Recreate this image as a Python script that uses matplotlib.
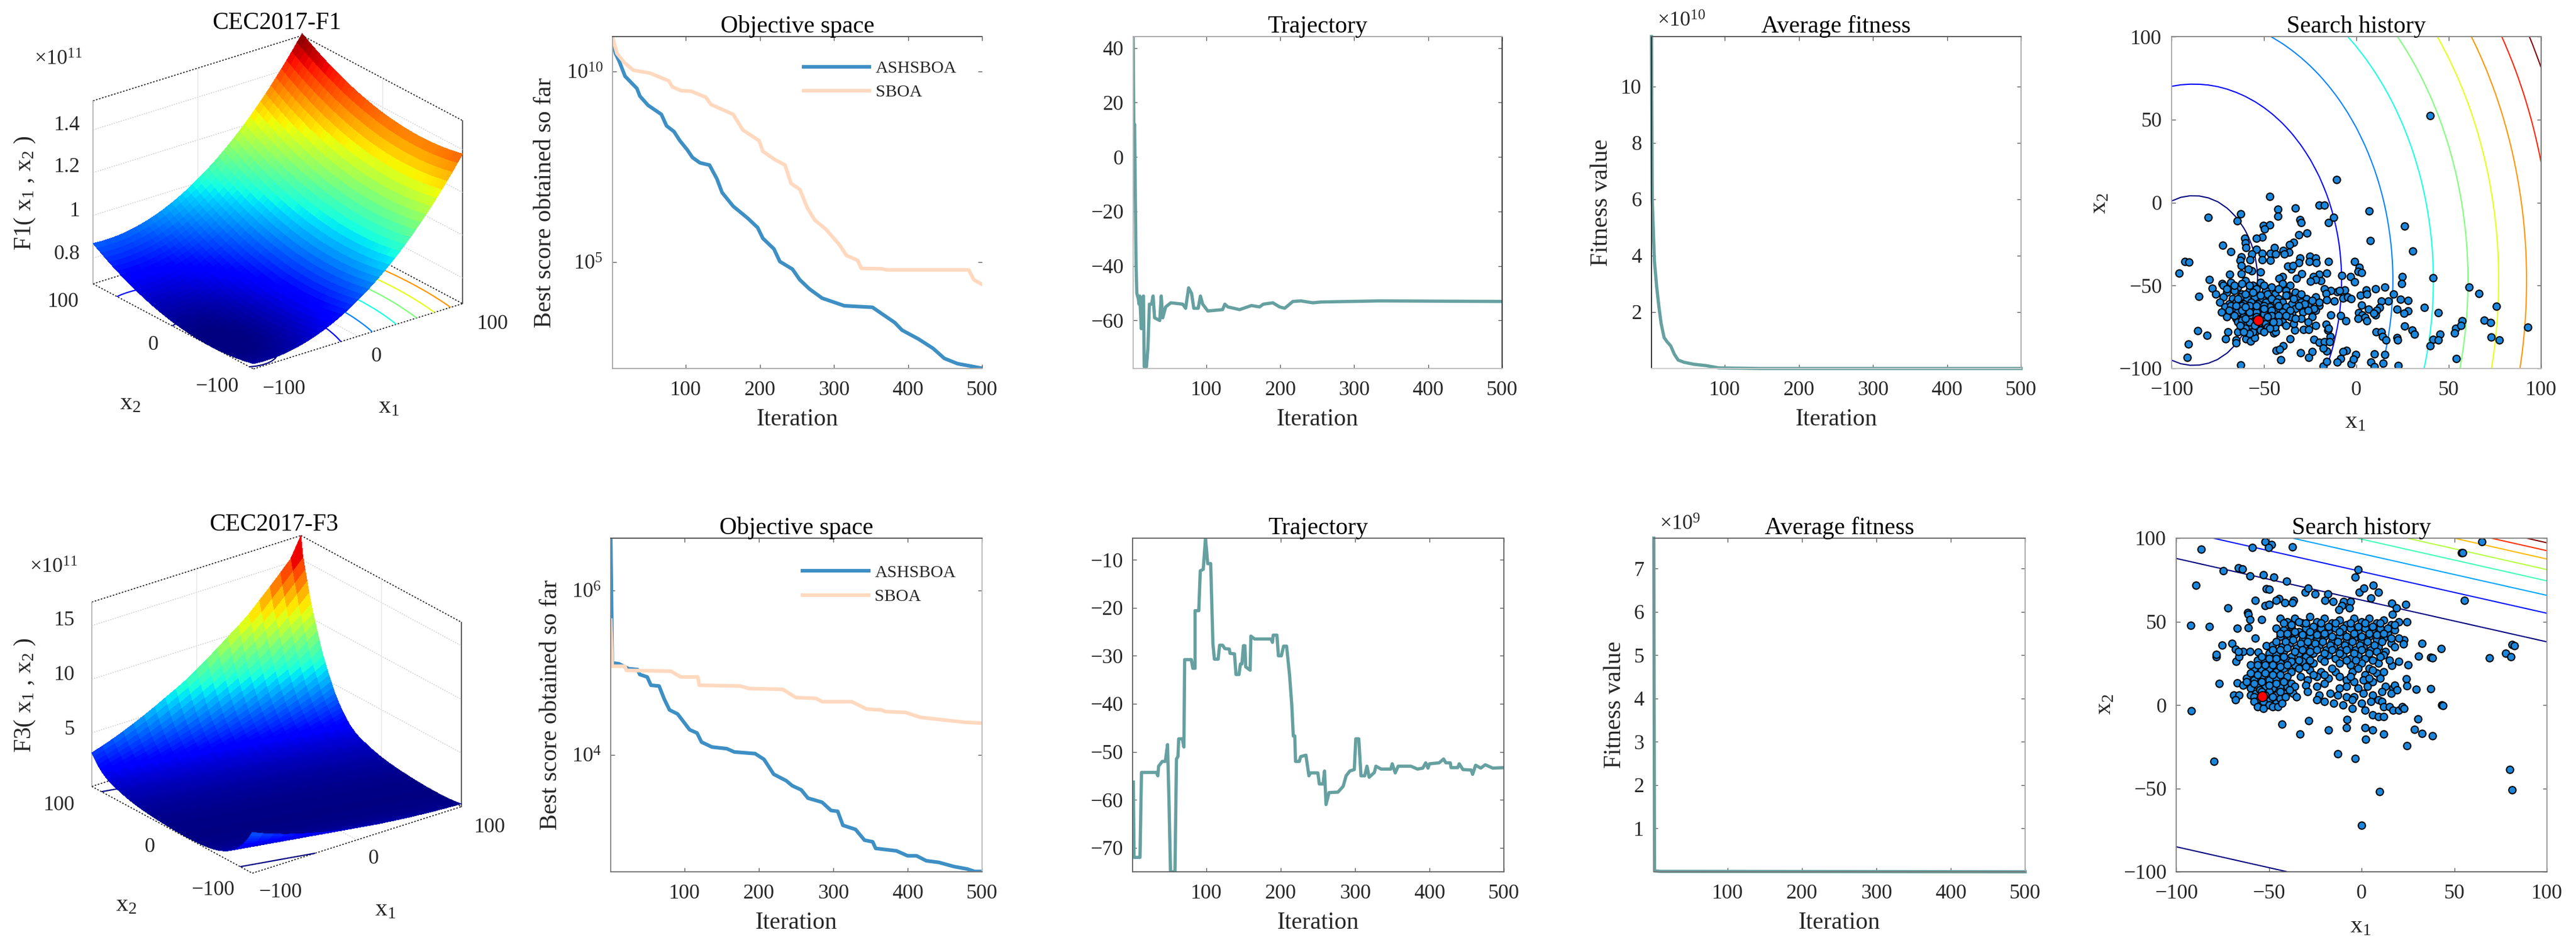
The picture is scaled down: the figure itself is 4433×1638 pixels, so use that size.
import numpy as np
import matplotlib
matplotlib.use('Agg')
from matplotlib import pyplot as plt

plt.rcParams['font.family'] = ['Liberation Serif', 'DejaVu Serif']
plt.rcParams['mathtext.fontset'] = 'custom'
plt.rcParams['mathtext.rm'] = 'Liberation Serif'
plt.rcParams['mathtext.it'] = 'Liberation Serif:italic'
plt.rcParams['mathtext.default'] = 'regular'

W, H = 4433, 1638
TICK = 26
LABEL = 30
DARK = '#262626'
BLUE = '#3E8FC4'
PEACH = '#FFD9BF'
TEAL = '#66A0A0'
DOT = '#1A86DC'

# surface F1, profiles read along each side of the box (x1e11, step 5)
f1_base = 0.677
f1_along_x1 = [.0028,.0009,.0001,.0002,.0012,.0032,.0062,.0102,.0151,.0209,.0277,.0355,.0442,.0539,
               .0646,.0762,.0888,.1023,.1168,.1323,.1487,.1661,.1844,.2037,.2239,.2452,.2673,.2905,
               .3146,.3396,.3656,.3926,.4206,.4495,.4793,.5101,.5419,.5746,.6083,.6430,.6786]
f1_along_x2 = [.0246,.0202,.0162,.0127,.0096,.0069,.0046,.0028,.0015,.0006,.0001,.0,.0004,.0013,
               .0025,.0042,.0064,.0090,.0120,.0155,.0194,.0237,.0285,.0337,.0394,.0455,.0520,.0590,
               .0664,.0742,.0825,.0912,.1004,.1100,.1201,.1305,.1414,.1528,.1646,.1768,.1895]
f1_levels = [.7,.8,.9,1.0,1.1,1.2,1.3,1.4,1.5]
f1_zlim = (.68,1.536)

# surface F3 is ridged along one direction, values read going across the ridge (x1e11)
f3_across = [3.80,3.40,3.05,2.72,2.42,2.15,1.90,1.68,1.48,1.30,
             1.14,1.00,.87,.76,.66,.57,.49,.42,.36,.31,
             .26,.22,.19,.16,.14,.12,.10,.09,.08,.07,
             .07,.06,.06,.06,.06,.06,.07,.07,.08,.09,
             .10,.11,.12,.13,.15,.16,.18,.20,.22,.24,
             .26,.28,.30,.33,.36,.39,.42,.45,.49,.53,
             .58,.63,.68,.74,.80,.86,.93,1.00,1.08,1.16,
             1.24,1.33,1.43,1.55,1.71,1.87,2.08,2.31,2.56,2.83,
             3.13,3.45,3.80,4.19,4.61,5.07,5.55,6.07,6.58,7.12,
             7.75,8.45,9.15,9.90,10.6,11.4,12.35,13.3,14.3,15.3,
             17.2]
f3_levels = [1.9,3.8,5.7,7.6,9.5,11.4,13.3,15.2]
f3_zlim = (0,17.2)

# convergence, (iteration, log10 of best score)
ash_f1 = [(1,10.84),(5,10.48),(10,10.28),(18,9.88),(34,9.56),(38,9.36),(49,9.12),(67,8.88),(74,8.58),(84,8.43),
          (92,8.19),(102,7.95),(109,7.75),(119,7.61),(132,7.55),(142,7.19),(149,6.83),(164,6.47),(184,6.15),
          (197,5.91),(204,5.63),(219,5.35),(227,5.02),(244,4.82),(254,4.54),(267,4.30),(284,4.06),(299,3.96),
          (314,3.86),(352,3.82),(367,3.62),(382,3.42),(392,3.22),(414,2.99),(434,2.74),(449,2.48),(467,2.34),
          (484,2.28),(500,2.22)]
sboa_f1 = [(1,10.92),(7,10.48),(17,10.24),(29,10.04),(52,9.96),(77,9.76),(82,9.60),(94,9.50),(107,9.49),(127,9.33),
           (134,9.14),(164,8.88),(177,8.47),(199,8.19),(204,7.91),(219,7.71),(234,7.55),(242,7.07),(254,6.91),
           (264,6.43),(274,6.11),(289,5.87),(307,5.47),(317,5.18),(332,5.05),(337,4.84),(364,4.83),(372,4.80),
           (482,4.80),(489,4.54),(500,4.42)]
ash_f3 = [(1,6.63),(3,5.12),(12,5.11),(25,5.05),(37,5.04),(40,4.98),(50,4.95),(55,4.85),(66,4.84),(73,4.68),(80,4.55),
          (91,4.50),(107,4.31),(117,4.27),(123,4.16),(137,4.10),(157,4.08),(167,4.04),(195,4.02),(207,3.95),(220,3.77),
          (237,3.69),(245,3.63),(257,3.58),(266,3.48),(285,3.43),(297,3.33),(306,3.32),(313,3.15),(330,3.10),(342,2.97),
          (353,2.95),(357,2.87),(385,2.84),(400,2.78),(412,2.78),(425,2.72),(442,2.70),(462,2.65),(480,2.62),(490,2.59),(500,2.59)]
sboa_f3 = [(1,5.64),(3,5.08),(20,5.08),(22,5.03),(82,5.02),(95,4.95),(118,4.95),(120,4.85),(175,4.84),(187,4.81),(232,4.80),
           (250,4.70),(277,4.69),(285,4.65),(325,4.65),(345,4.56),(365,4.55),(370,4.53),(397,4.52),(417,4.46),(447,4.43),
           (477,4.40),(500,4.39)]

# trajectory of first dimension
traj_f1 = [(1,44),(2,8),(3,12),(4,-15),(5,-40),(6,-50),(8,-52),(9,-54),(10,-51),(12,-63),(13,-52),(15,-51),(16,-77),(19,-77),
           (21,-70),(23,-54),(26,-54),(28,-51),(30,-59),(37,-60),(39,-51),(41,-59),(45,-55),(52,-53.5),(68,-54),(72,-55.5),
           (76,-48),(80,-50),(83,-55.5),(89,-55.5),(92,-51),(95,-54),(102,-56.5),(122,-56),(125,-54),(129,-55),(145,-56),
           (161,-54.5),(172,-55),(177,-54),(190,-53.5),(199,-55),(206,-55.5),(217,-53),(228,-52.8),(244,-53.5),(255,-53.2),
           (334,-52.8),(500,-53)]
traj_f3 = [(2,-56.3),(3,-72),(11,-72),(13,-54.3),(33,-54.3),(35,-55),(36,-53),(41,-52),(45,-52),(48,-48.5),(50,-60.5),(52,-75),
           (58,-75),(60,-51.5),(62,-51),(63,-47.3),(68,-47.3),(70,-49),(71,-30.8),(80,-30.8),(82,-32.6),(85,-32.6),(85,-20.6),
           (90,-20.6),(92,-12.3),(96,-12),(99,-5.5),(102,-10.8),(106,-10.8),(109,-27.5),(111,-30.7),(116,-30.7),(118,-27.8),
           (122,-27.8),(125,-28.5),(131,-28.6),(132,-29.5),(138,-29.6),(140,-33.9),(144,-33.9),(146,-31.7),(148,-31.7),
           (150,-27.9),(152,-27.9),(153,-32.3),(159,-33),(160,-25.9),(165,-26.5),(187,-26.5),(189,-27.2),(190,-25.7),(195,-25.7),
           (197,-30),(201,-30),(204,-28),(208,-28),(212,-34),(215,-40.3),(217,-46.7),(219,-46.7),(220,-52),(225,-52),(227,-51),
           (234,-50.7),(238,-55),(240,-54.4),(250,-54.4),(252,-56.7),(257,-56.7),(259,-54),(261,-61),(265,-58.5),(277,-58.4),
           (284,-57.2),(288,-55),(293,-54),(299,-53.7),(301,-47.3),(305,-47.3),(308,-55),(313,-55),(316,-53),(319,-55.3),
           (326,-54.3),(328,-53),(335,-53.6),(348,-53.6),(350,-52.5),(354,-54.4),(358,-53),(375,-53),(384,-53.6),(391,-53.4),
           (395,-52.3),(398,-53.4),(400,-52.5),(413,-52.3),(419,-51.5),(422,-52.3),(428,-52.3),(429,-53.3),(438,-53.3),(440,-52.5),
           (445,-53.7),(456,-53.8),(458,-54.7),(462,-52.8),(469,-53.4),(475,-52.7),(485,-53.4),(500,-53.3)]

# average fitness
fit_f1 = [(1,11.77),(2,6),(5,3.8),(8,2.9),(11,2.2),(14,1.6),(18,1.1),(22,.95),(27,.8),(32,.5),(37,.3),(45,.22),(58,.15),(75,.1),(92,.02),(148,0),(500,0)]
fit_f3 = [(1,7.7),(2,0.02),(10,0.01),(500,0)]

# search history points
hist_f1 = [(40,52.4),(-10.7,13.9),(-46.8,3.6),(-42.5,-4),(-42.5,-8.4),(-33,-3.2),(-62.7,-7),(-64.6,-11),(-80.3,-8.8),(-20.2,-1.7),
           (-17.4,-1.7),(-12.2,-9.1),(-15.2,-12),(-30.5,-10.2),(-30,-12),(-50.2,-14),(-46.8,-13.4),(-49.6,-16),(7,-5),(26.2,-14.3),
           (7.5,-22.8),(30.5,-29.4),(-26.8,-18.3),(-31.1,-19.3),(-51,-20.7),(-54,-21.7),(-60.5,-21.7),(-60,-24.4),(-59.6,-27.2),
           (-72.3,-25.7),(-68,-29.6),(-33.9,-23.9),(-36.1,-25.3),(-36.5,-30),(-39.5,-29),(-44.4,-27.2),(-54,-28.1),(-56.7,-30.9),
           (-51.1,-30.5),(-46.4,-30.5),(-43.6,-30.9),(-39,-30.9),(-62.4,-32.7),(-63,-35),(-62.4,-37.9),(-57.7,-34.6),(-51,-34.6),
           (-46.4,-35),(-92.9,-35.5),(-90.6,-35.9),(-96,-42.5),(-25.3,-32.4),(-22,-33.6),(-30.5,-33.6),(-31,-36.4),(-25.5,-35.5),
           (-21.8,-36.4),(-15,-35.5),(-0.9,-35.5),(1.7,-39.2),(1,-41.6),(2.8,-42.3),(25,-44.7),(41.6,-45.3),(24.5,-48.9),(-3.2,-44.7),
           (-8,-44.1),(-0.9,-47.8),(-15.9,-42.5),(-20.2,-43.2),(-23.4,-44.7),(-19.3,-47),(-22,-46.5),(-24.9,-47.5),(-29.6,-42.9),
           (-32.4,-45.6),(-35.2,-40),(-37,-38.2),(-34.3,-37.9),(-39.9,-44.7),(-41.8,-45.6),(-52,-42),(-56.7,-41),(-58.6,-40),
           (-62.4,-42.9),(-68.4,-43.4),(-79.6,-46.5),(-72.7,-48.9),(-78,-51.5),(-76.2,-55.2),(-85.2,-56.7),(60.9,-51),(66.5,-54.8),
           (15.4,-50.8),(10.3,-52),(5.4,-52.6),(2.2,-55.8),(5.6,-55.2),(-6.2,-52.6),(-10.3,-53.9),(-9,-53),(-13.7,-53),(-17.4,-52),
           (-7.1,-57.6),(-4.7,-57),(-2.8,-58),(20,-55.2),(23.8,-58.2),(27.9,-58.9),(17.2,-59.4),(13.5,-59.4),(2.8,-61.8),(36.9,-63.3),
           (75.7,-62.4),(44.4,-66.3),(21.9,-64.4),(27.9,-65.2),(25.7,-66.8),(12.5,-63.1),(11,-65),(10.3,-67.7),(6.6,-64.4),(1.3,-66.3),
           (3.2,-67.7),(1,-70),(4.7,-69.2),(5.6,-71.4),(9.4,-66.8),(-8.4,-68.1),(-5.6,-71.4),(-13.7,-67.7),(-16.5,-54.8),(-11.8,-59.4),
           (-15.9,-58.5),(-20.2,-62.2),(-22.1,-65),(26.2,-74.4),(30.3,-77),(31.6,-79.4),(10.7,-77.9),(13.5,-77.9),(14,-80.6),(15.9,-82.9),
           (21.9,-81.6),(22.3,-82.9),(45.3,-79.4),(41.6,-82.5),(44.4,-82.9),(40,-86.2),(53.7,-76),(57.1,-71.4),(56.6,-74.2),(69.3,-71),
           (72.5,-72.3),(53.2,-78.8),(92.7,-75.1),(72.8,-81.2),(77.3,-83),(54.1,-93.9),(22.5,-98.2),(15.4,-91.7),(9.7,-91.3),(14.4,-96.9),
           (7.9,-96),(9.7,-99.1),(-0.2,-91.7),(-2.8,-97.2),(-1.5,-94.5),(-5.2,-89),(-7.1,-89.9),(-8.4,-93.9),(-10.3,-96),(-17.8,-98.5),
           (-15.9,-95.8),(-15.9,-89.5),(-24,-89.9),(-25.8,-93.5),(-30.1,-90.4),(-40.8,-94.8),(-39.5,-86.2),(-43.3,-89),(-41.4,-88.6),
           (-62.7,-97.8),(-91.4,-93.2),(-91,-85.3),(-85.8,-77.1),(-80.7,-80.1),(-70.8,-82.1),(-69.5,-77.9),(-65.2,-82.9),(-65.2,-84.7),
           (-64.2,-77.9),(-59.6,-82.1),(-57.1,-83.4),(-59.6,-78.4),(-54.9,-78.8),(-54.9,-81.6),(-44.6,-78.8),(-43.6,-77.9),(-35.8,-82.1),
           (-33.3,-77),(-28.7,-76.6),(-25.8,-76.6),(-23,-82.5),(-20.2,-84.3),(-17.4,-84),(-14,-80.6),(-17.8,-87.6),(-14.6,-84),(-15.5,-77),
           (-16.5,-73.3),(-15.2,-76),
           # dense part of the cloud
           (-72,-50),(-68,-48),(-64,-51),(-60,-47),(-56,-50),(-52,-48),(-46,-51),(-40,-49),(-36,-50),(-70,-54),(-66,-53),(-62,-55),
           (-58,-53),(-54,-55),(-49,-53),(-44,-55),(-38,-53),(-33,-54),(-72,-57),(-67,-58),(-63,-57),(-59,-58),(-55,-57),(-51,-58),
           (-47,-57),(-42,-58),(-37,-56),(-31,-57),(-27,-58),(-22,-57),(-74,-60),(-69,-61),(-65,-60),(-61,-61),(-57,-60),(-53,-61),
           (-49,-60),(-45,-61),(-40,-60),(-35,-61),(-30,-60),(-26,-61),(-20,-60),(-71,-63),(-67,-64),(-63,-63),(-59,-64),(-55,-63),
           (-51,-64),(-47,-63),(-43,-64),(-38,-63),(-33,-64),(-28,-63),(-23,-64),(-73,-66),(-68,-67),(-64,-66),(-60,-67),(-56,-66),
           (-52,-67),(-48,-66),(-44,-67),(-40,-66),(-35,-67),(-29,-66),(-70,-69),(-65,-70),(-61,-69),(-57,-70),(-53,-68),(-49,-70),
           (-45,-69),(-41,-70),(-36,-69),(-30,-70),(-24,-69),(-64,-72),(-60,-73),(-56,-72),(-52,-74),(-48,-72),(-44,-73),(-40,-72),
           (-34,-73),(-26,-72),(-62,-75),(-58,-76),(-54,-75),(-50,-76),(-46,-75),(-38,-74),(-22,-74),(-57,-74),(-55,-72),(-51,-71),
           (-49,-73),(-56,-69),(-50,-67),(-54,-66),(-47,-70),
           (-70,-52),(-66,-50),(-62,-49),(-58,-50),(-54,-52),(-50,-50),(-48,-55),(-42,-52),(-38,-56),(-34,-58),(-30,-55),(-28,-61),
           (-24,-59),(-64,-58),(-60,-55),(-56,-54),(-52,-56),(-46,-58),(-43,-60),(-68,-62),(-62,-62),(-58,-62),(-54,-62),(-50,-62),
           (-46,-65),(-42,-62),(-36,-65),(-31,-62),(-26,-65),(-66,-68),(-62,-65),(-58,-68),(-54,-69),(-50,-64),(-46,-68),(-42,-68),
           (-38,-68),(-33,-70),(-62,-71),(-58,-72),(-54,-73),(-60,-76),(-56,-78),(-52,-77),(-48,-75),(-44,-75),(-42,-72),(-60,-70),
           (-47,-76),(-50,-78),(-58,-79),(-55,-74),(-48,-69),(-58,-66),(-60,-63),(-65,-62),(-69,-65),(-63,-74),(-61,-78),(-45,-72)]
best_f1 = [(-53,-71)]

hist_f3 = [(-86.6,93.4),(-52.1,97.8),(-48.6,96.3),(-50.2,94.5),(-58.8,94.3),(-37.4,94.9),(65,97.8),(54,91.2),(54.6,91.4),(55.4,62.8),
           (-1.8,81.1),(-3.6,76.5),(-74.5,80.6),(-66.6,82.4),(-64.4,81.5),(-60.1,77.5),(-53,78),(-47.4,76.5),(-40.5,74.3),(-89.2,71.8),
           (-51.4,69.8),(-49.9,69.2),(-30.3,67.7),(-28.8,69.9),(-25.1,66.6),(-18.2,66.6),(-1.4,67.7),(1.2,69.9),(6.4,71.8),(9.2,67.7),
           (5.1,64.1),(-57.3,62.8),(-44.6,63.7),(-46.1,62.8),(-41.5,61.3),(-36.8,62.8),(-37.2,61.3),(-52.1,59.5),(-49.9,60.4),(-19.7,62.8),
           (-15.4,61.9),(-9.8,61.9),(-6,61.9),(-10.7,59.7),(-12.2,57.3),(-6.6,58.2),(16.3,61),(23.8,60.4),(18.7,58.2),(16.7,54.5),(-72,58.2),
           (-61.4,55.5),(-61,54.2),(-60.1,51.2),(-54,51.2),(-92.2,47.9),(-82.1,47.2),(-67,46.1),(-61,46.3),(-57.3,39.9),(-51.4,35.7),(-75.2,36),
           (-70,36.9),(32.5,36.8),(43,33.8),(22.8,39),(24.3,50),(22.5,36.6),(30.8,29.1),(37.2,28.5),(38.1,28.1),(68.9,28.3),(77.8,31.1),
           (80.6,28.9),(81.2,36.2),(82.5,35.7),(-78.4,28.9),(-78.4,30.3),(-67.6,26.1),(-66.3,28.9),(-67.9,33.5),(-63.8,32),(-66.6,32.2),
           (-60.1,32.2),(-55.8,31.6),(-76.9,12.9),(-67,13.3),(25.1,23.9),(20.2,26.1),(16.3,23.7),(24.1,15.7),(24.3,11.5),(29.4,9.3),(37.2,9.6),
           (43.3,-0.1),(43.9,-0.5),(-92,-3.4),(-43.1,-11.6),(-28.6,-9.3),(-33.3,-17.5),(-18,-14.9),(-7.7,-8.7),(-8.3,-13.7),(2,-13.5),(6.1,-15.1),
           (11.8,-17.5),(2.3,-20.6),(30.3,-8.3),(28.4,-14.8),(32.5,-17),(38.1,-18.4),(24.3,-24.5),(-12.8,-29.4),(-3.4,-32.2),(-79.5,-33.8),
           (79.9,-38.6),(81.2,-50.7),(9.8,-52),(-0.1,-72.1),
           # dense part of the cloud
           (-44,52),(-40,50),(-36,52),(-32,49),(-28,53),(-24,50),(-20,52),(-16,49),(-12,51),(-8,48),(-4,52),(0,50),(4,52),(8,49),(12,51),(16,48),(20,50),
           (-46,46),(-42,45),(-38,47),(-34,44),(-30,46),(-26,44),(-22,46),(-18,44),(-14,46),(-10,43),(-6,46),(-2,44),(2,46),(6,44),(10,46),(14,43),(18,45),
           (-44,41),(-40,40),(-36,42),(-32,39),(-28,41),(-24,39),(-20,41),(-16,38),(-12,41),(-8,38),(-4,40),(0,38),(4,41),(8,39),(12,40),(16,37),(20,40),
           (-48,36),(-43,35),(-39,37),(-35,34),(-31,36),(-27,34),(-23,36),(-19,33),(-15,35),(-11,33),(-7,35),(-3,33),(1,35),(5,33),(9,35),(13,32),
           (-50,31),(-46,30),(-42,32),(-38,29),(-34,31),(-30,29),(-26,31),(-22,28),(-18,30),(-14,28),(-10,30),(-6,28),(-2,30),(2,28),(12,30),(15,27),
           (-56,27),(-52,26),(-48,27),(-44,25),(-40,27),(-36,24),(-32,26),(-26,25),(-12,25),(-6,24),(0,25),(4,22),(9,25),
           (-58,22),(-54,21),(-50,22),(-46,20),(-42,22),(-38,20),(-28,21),(-22,20),(-14,20),(-5,20),(2,18),(8,19),(12,20),
           (-62,16),(-58,15),(-54,17),(-50,15),(-46,16),(-33,17),(-29,15),(-24,17),(-18,16),(-8,15),(-4,14),(1,15),(6,14),
           (-64,12),(-60,10),(-56,12),(-52,11),(-48,10),(-44,11),(-40,11),(-30,12),(-24,11),(-20,13),(-12,10),(-8,11),(-2,10),(3,11),(13,11),(17,10),(18,12),
           (-60,6),(-57,7),(-55,9),(-50,8),(-46,6),(-42,7),(-37,7),(-35,5),(-29,8),(-23,6),(-24,3),(-17,7),(-13,6),(-8,5),(-4,5),(1,7),(6,6),(11,8),(16,7),(19,9),
           (-57,3),(-55,1),(-52,0),(-49,1),(-47,3),(-46,1),(-50,3),(-58,5),(-69,6),(-66,6),(-68,3),(-20,2),(-15,1),(-10,0),(-5,3),(0,1),(5,2),(9,3),(11,2),(12,-1),
           (-5,-2),(2,-3),(6,-6),(9,-7),(12,-7),(15,-1),(17,-3),(20,-3),(22,-1),(23,-2),
           (-42,49),(-38,48),(-34,50),(-30,49),(-26,47),(-22,49),(-18,47),(-14,49),(-10,46),(-6,49),(-2,47),(2,49),(6,47),(10,49),(14,46),(18,48),
           (-44,43),(-40,43),(-36,44),(-32,42),(-28,44),(-24,42),(-20,43),(-16,41),(-12,44),(-8,41),(-4,43),(0,41),(4,43),(8,42),(12,43),(16,40),
           (-46,38),(-41,38),(-37,39),(-33,37),(-29,38),(-25,37),(-21,38),(-17,36),(-13,38),(-9,36),(-5,38),(-1,36),(3,38),(7,36),(11,38),(18,35),
           (-48,33),(-44,33),(-40,34),(-36,32),(-32,33),(-28,32),(-24,33),(-20,31),(-16,33),(-12,31),(-8,33),(-4,31),(0,33),(4,31),(8,32),(10,29),
           (-54,29),(-50,28),(-46,28),(-42,29),(-38,26),(-34,27),(-28,27),(-20,26),(-8,27),(-3,27),(6,27),
           (-60,24),(-56,24),(-52,24),(-48,24),(-44,23),(-40,24),(-34,22),(-30,23),(-16,22),(-2,22),(6,21),
           (-60,19),(-56,18),(-52,19),(-48,18),(-44,18),(-40,17),(-26,18),(-20,18),(-12,17),(-6,17),(4,16),(10,16),
           (-62,14),(-58,13),(-54,14),(-50,12),(-46,13),(-42,14),(-38,13),(-36,11),
           (-54,8),(-52,6),(-48,5),(-44,4),(-44,8),(-41,5),(-39,9),(-55,4),(-53,2),(-50,0),(-48,-1),(-45,-1),(-43,1),(-58,2),(-56,-1),(-53,-2)]
best_f3 = [(-53.6,5.4)]

px_tick_iter = [100,200,300,400,500]
px_tick_hist = [-100,-50,0,50,100]


def put(xp, yp, s, **kw):
    kw.setdefault('ha', 'center')
    kw.setdefault('va', 'center')
    kw.setdefault('fontsize', TICK)
    kw.setdefault('color', DARK)
    return fig.text(xp / W, 1 - yp / H, s, **kw)


def axes_px(x0, x1, y0, y1, **kw):
    return fig.add_axes([x0 / W, 1 - y1 / H, (x1 - x0) / W, (y1 - y0) / H], **kw)


def style(ax, spines):
    # spines is (top, right, bottom, left), None hides it
    for name, col in zip(['top', 'right', 'bottom', 'left'], spines):
        if col is None:
            ax.spines[name].set_visible(False)
        else:
            ax.spines[name].set_color(col)
            ax.spines[name].set_linewidth(1.4)
    ax.tick_params(which='major', direction='in', length=5, width=1, color='#555555',
                   top=True, right=True, labelsize=TICK, labelcolor=DARK)
    ax.tick_params(axis='x', pad=15)
    ax.tick_params(axis='y', pad=12)
    ax.minorticks_off()


def iter_axes(x0, x1, y0, y1, title, spines, xlab_y=88):
    ax = axes_px(x0, x1, y0, y1)
    ax.set_xlim(1, 500)
    ax.set_xticks(px_tick_iter)
    style(ax, spines)
    ax.set_title(title, fontsize=LABEL, pad=5, color='black')
    put((x0 + x1) / 2, y1 + xlab_y, 'Iteration', fontsize=LABEL)
    return ax


def xy(rows):
    a = np.array(rows, dtype=float)
    return a[:, 0], a[:, 1]


def surface(box, X, Y, Z, zlim, levels, zticks, elev, zaspect):
    ax = axes_px(box[0], box[0] + box[2], box[1], box[1] + box[2], projection='3d', computed_zorder=False)
    ax.set_proj_type('ortho')
    ax.view_init(elev=elev, azim=-127.5)
    ax.set_box_aspect((1, 1, zaspect))
    ax.set_xlim(-100, 100, view_margin=0)
    ax.set_ylim(-100, 100, view_margin=0)
    ax.set_zlim(zlim[0], zlim[1], view_margin=0)
    ax.set_axis_off()
    lo, hi = zlim
    dot = dict(color='#222222', ls=(0, (1.5, 1.5)), lw=1.3, zorder=1)
    for p, q in [((-100, 100), (100, 100)), ((100, 100), (100, -100))]:
        ax.plot([p[0], q[0]], [p[1], q[1]], [hi, hi], **dot)
        ax.plot([p[0], q[0]], [p[1], q[1]], [lo, lo], **dot)
    for p, q in [((-100, 100), (-100, -100)), ((-100, -100), (100, -100))]:
        ax.plot([p[0], q[0]], [p[1], q[1]], [lo, lo], **dot)
    ax.plot([-100, -100], [100, 100], [lo, hi], color='#aaaaaa', lw=1.2, zorder=1)
    ax.plot([100, 100], [-100, -100], [lo, hi], color='#555555', lw=1.4, zorder=1)
    # back wall and floor grid
    grid = dict(color='#cccccc', ls=(0, (1.5, 1.5)), lw=1, zorder=1)
    for z in zticks:
        ax.plot([-100, 100, 100], [100, 100, -100], [z, z, z], **grid)
    ax.plot([0, 0], [100, 100], [lo, hi], color='#e4e4e4', lw=1, zorder=1)
    ax.plot([100, 100], [0, 0], [lo, hi], color='#e4e4e4', lw=1, zorder=1)
    ax.plot([0, 0], [-100, 100], [lo, lo], **grid)
    ax.plot([-100, 100], [0, 0], [lo, lo], **grid)
    ax.contour(X, Y, Z, levels=levels, cmap='jet', vmin=levels[0], vmax=levels[-1],
               offset=lo, linewidths=1.6, zorder=2)
    ax.plot_surface(X, Y, Z, cmap='jet', vmin=lo, vmax=hi, rcount=Z.shape[0], ccount=Z.shape[1],
                    linewidth=0, antialiased=False, shade=False, zorder=3)
    return ax


def history(x0, x1, y0, y1, X, Y, Z, levels, pts, best, lab_x, lab_y, spines):
    ax = axes_px(x0, x1, y0, y1)
    ax.contour(X, Y, Z, levels=levels, cmap='jet', vmin=levels[0], vmax=levels[-1], linewidths=1.5, zorder=1)
    px, py = xy(pts)
    ax.scatter(px, py, s=80, c=DOT, edgecolors='black', linewidths=1.5, zorder=2)
    bx, by = xy(best)
    ax.scatter(bx, by, s=150, c='red', edgecolors='black', linewidths=1.3, zorder=3)
    ax.set_xlim(-100, 100)
    ax.set_ylim(-100, 100)
    ax.set_xticks(px_tick_hist)
    ax.set_yticks(px_tick_hist)
    ax.set_xticklabels(['\u2212100', '\u221250', '0', '50', '100'])
    ax.set_yticklabels(['\u2212100', '\u221250', '0', '50', '100'])
    style(ax, spines)
    ax.set_title('Search history', fontsize=LABEL, pad=5, color='black')
    put(lab_x[0], lab_x[1], r'$\mathrm{x}_{1}$', fontsize=LABEL)
    put(lab_y[0], lab_y[1], r'$\mathrm{x}_{2}$', fontsize=LABEL, rotation=90)
    return ax


fig = plt.figure(figsize=(W / 100, H / 100), dpi=100, facecolor='white')

# meshes for both surfaces
x1_f1 = np.arange(-100, 101, 5)
x2_f1 = np.arange(-100, 101, 5)
X1, Y1 = np.meshgrid(x1_f1, x2_f1)
Z1 = f1_base + np.array(f1_along_x1)[None, :] + np.array(f1_along_x2)[:, None]
x1_f3 = np.arange(-100, 101, 10)
x2_f3 = np.arange(-100, 100.5, 2.5)
X3, Y3 = np.meshgrid(x1_f3, x2_f3)
Z3 = np.array([[f3_across[i + j] for i in range(len(x1_f3))] for j in range(len(x2_f3))])

# left column, 3D surfaces
surface((115, 4, 707), X1, Y1, Z1, f1_zlim, f1_levels, [.8, 1, 1.2, 1.4], 24, .76)
surface((112, 867, 709), X3, Y3, Z3, f3_zlim, f3_levels, [5, 10, 15], 24.5, .768)

put(476, 40, 'CEC2017-F1', fontsize=LABEL, color='black')
put(100, 103, '\u00d7$10^{11}$')
for s, yp in zip(['1.4', '1.2', '1', '0.8'], [216, 288, 363, 437]):
    put(138, yp, s, ha='right')
put(109, 520, '100'); put(264, 593, '0'); put(373, 666, '\u2212100')
put(488, 669, '\u2212100'); put(648, 614, '0'); put(848, 558, '100')
put(224, 694, r'$\mathrm{x}_{2}$', fontsize=LABEL)
put(669, 700, r'$\mathrm{x}_{1}$', fontsize=LABEL)
put(43, 332, r'F1( $\mathrm{x}_{1}$ , $\mathrm{x}_{2}$ )', fontsize=LABEL, rotation=90)

put(471, 903, 'CEC2017-F3', fontsize=LABEL, color='black')
put(92, 977, '\u00d7$10^{11}$')
for s, yp in zip(['15', '10', '5'], [1067, 1162, 1256]):
    put(129, yp, s, ha='right')
put(102, 1386, '100'); put(258, 1458, '0'); put(366, 1532, '\u2212100')
put(482, 1535, '\u2212100'); put(643, 1478, '0'); put(843, 1423, '100')
put(217, 1557, r'$\mathrm{x}_{2}$', fontsize=LABEL)
put(663, 1565, r'$\mathrm{x}_{1}$', fontsize=LABEL)
put(43, 1196, r'F3( $\mathrm{x}_{1}$ , $\mathrm{x}_{2}$ )', fontsize=LABEL, rotation=90)

# objective space
for (x0, y0, y1, ylog, ticks, ash, sboa, spines, lab_x, leg_y) in [
        (1054, 63, 634, (2.215, 10.92), [5, 10], ash_f1, sboa_f1, ('#555555', None, '#aaaaaa', '#aaaaaa'), 938, .928),
        (1051, 926, 1500, (2.586, 6.634), [4, 6], ash_f3, sboa_f3, ('#555555', '#bbbbbb', '#777777', '#888888'), 948, .92)]:
    ax = iter_axes(x0, 1690, y0, y1, 'Objective space', spines)
    ax.set_yscale('log')
    ix, lg = xy(ash)
    ax.plot(ix, 10.0 ** lg, color=BLUE, lw=4.5, label='ASHSBOA')
    ix, lg = xy(sboa)
    ax.plot(ix, 10.0 ** lg, color=PEACH, lw=4.5, label='SBOA')
    ax.set_ylim(10 ** ylog[0], 10 ** ylog[1])
    ax.set_yticks([10.0 ** t for t in ticks])
    ax.set_yticklabels(['$10^{%d}$' % t for t in ticks])
    ax.minorticks_off()
    ax.legend(loc='upper left', bbox_to_anchor=(.517, leg_y), frameon=False, fontsize=21.5, borderpad=0,
              borderaxespad=0, handlelength=3.8, handletextpad=.35, labelspacing=.48, labelcolor=DARK)
    put(lab_x, (y0 + y1) / 2, 'Best score obtained so far', fontsize=LABEL, rotation=90)

# trajectory
ax = iter_axes(1950, 2585, 63, 634, 'Trajectory', ('#aaaaaa', '#333333', '#bbbbbb', '#bbbbbb'))
ix, v = xy(traj_f1)
ax.plot(ix, v, color=TEAL, lw=4)
ax.set_ylim(-77.6, 44.2)
ax.set_yticks([-60, -40, -20, 0, 20, 40])
ax.set_yticklabels(['\u221260', '\u221240', '\u221220', '0', '20', '40'])

ax = iter_axes(1949, 2588, 926, 1500, 'Trajectory', ('#666666',) * 4)
ix, v = xy(traj_f3)
ax.plot(ix, v, color=TEAL, lw=4)
ax.set_ylim(-75, -5.5)
ax.set_yticks([-70, -60, -50, -40, -30, -20, -10])
ax.set_yticklabels(['\u221270', '\u221260', '\u221250', '\u221240', '\u221230', '\u221220', '\u221210'])

# average fitness, line is not clipped at the box
ax = iter_axes(2842, 3478, 63, 634, 'Average fitness', ('#555555', '#aaaaaa', '#cccccc', '#333333'))
ix, v = xy(fit_f1)
ax.plot(ix, v, color=TEAL, lw=4, clip_on=False)
ax.set_ylim(0, 11.77)
ax.set_yticks([2, 4, 6, 8, 10])
put(2894, 37, '\u00d7$10^{10}$')
put(2756, 348, 'Fitness value', fontsize=LABEL, rotation=90)

ax = iter_axes(2846, 3485, 926, 1500, 'Average fitness', ('#666666', '#aaaaaa', '#777777', '#888888'))
ix, v = xy(fit_f3)
ax.plot(ix, v, color=TEAL, lw=4, clip_on=False)
ax.set_ylim(0, 7.7)
ax.set_yticks([1, 2, 3, 4, 5, 6, 7])
put(2891, 903, '\u00d7$10^{9}$')
put(2779, 1213, 'Fitness value', fontsize=LABEL, rotation=90)

# search history
history(3737, 4373, 63, 634, X1, Y1, Z1, f1_levels, hist_f1, best_f1, (4053, 726), (3613, 350),
        ('#888888', '#777777', '#bbbbbb', '#aaaaaa'))
history(3745, 4383, 926, 1500, X3, Y3, Z3, f3_levels, hist_f3, best_f3, (4062, 1594), (3622, 1212),
        ('#888888', '#999999', '#666666', '#888888'))

fig.savefig('out.png', dpi=100, facecolor='white')
